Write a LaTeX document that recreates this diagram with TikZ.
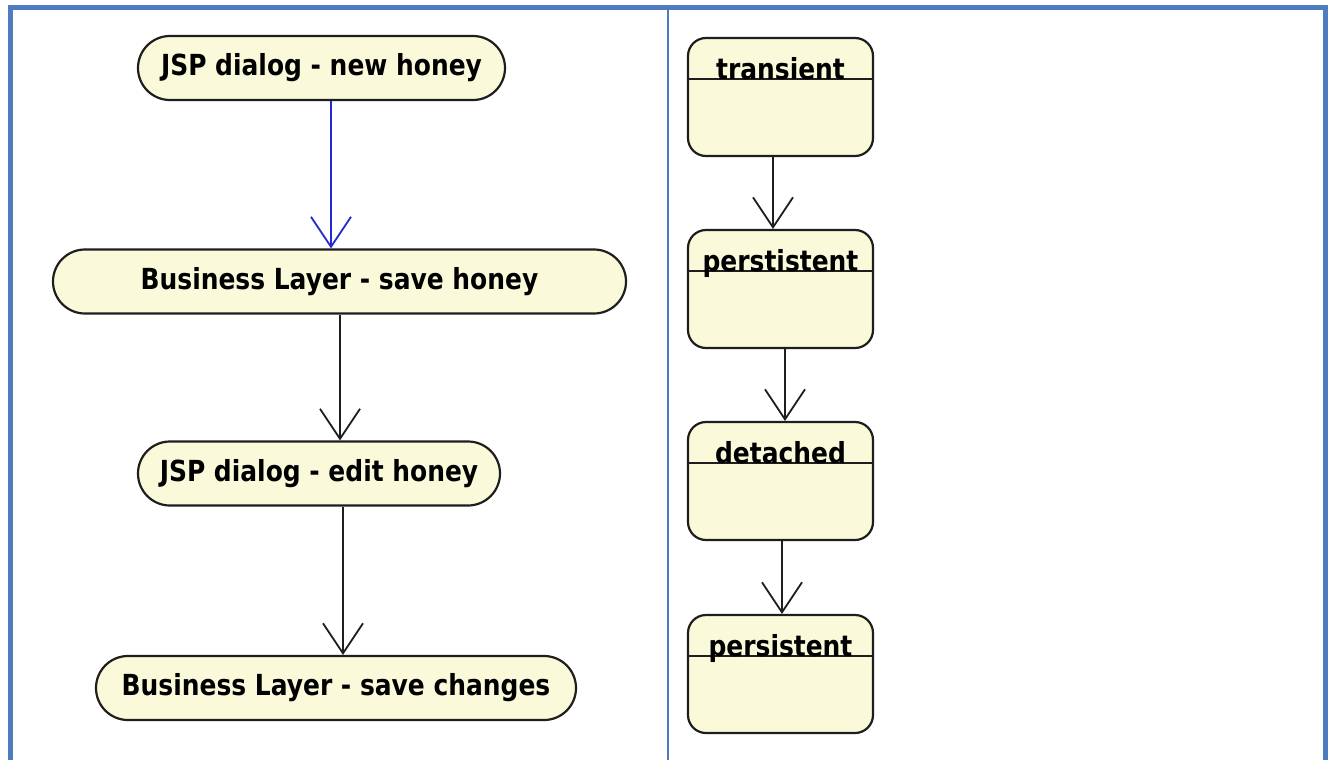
\documentclass[tikz,border=0pt]{standalone}
\usepackage{fontspec}
\newfontfamily\lblfont{DejaVu Sans}[FakeStretch=0.86]
\usetikzlibrary{arrows.meta,calc}

\definecolor{framblue}{RGB}{79,123,192}
\definecolor{nodefill}{RGB}{250,250,218}
\definecolor{edgeink}{RGB}{30,30,30}
\definecolor{flowblue}{RGB}{40,40,210}

\tikzset{
  activity/.style={draw=edgeink, line width=2.2pt, fill=nodefill,
    rounded corners=32pt, minimum height=64pt, inner sep=0pt,
    font=\lblfont\bfseries\fontsize{29}{32}\selectfont},
  statebox/.style={draw=edgeink, line width=2.2pt, fill=nodefill,
    rounded corners=18pt, minimum width=185pt, minimum height=118pt, inner sep=0pt},
  statename/.style={anchor=base, inner sep=0pt,
    font=\lblfont\bfseries\fontsize{29}{32}\selectfont},
  flow/.style={draw=edgeink, line width=1.8pt,
    -{Straight Barb[length=30pt,width=40pt,line width=1.8pt]}},
  frameline/.style={draw=framblue, line width=5pt},
}

\begin{document}
\begin{tikzpicture}[x=1pt,y=-1pt]
\useasboundingbox (0,0) rectangle (1330,760);
\fill[white] (0,0) rectangle (1330,760);

% table frame
\draw[frameline] (10,760) -- (10,8) -- (1325.5,8) -- (1325.5,760);
\draw[draw=framblue, line width=2.5pt] (668,8) -- (668,760);

% activity flow
\node[activity, minimum width=367pt] (n1) at (321.5,68) {JSP dialog - new honey};
\node[activity, minimum width=573pt] (n2) at (339.5,281.5) {Business Layer - save honey};
\node[activity, minimum width=362pt] (n3) at (319,473.5) {JSP dialog - edit honey};
\node[activity, minimum width=480pt] (n4) at (336,688) {Business Layer - save changes};

\draw[flow, draw=flowblue, -{Straight Barb[length=30pt,width=40pt,line width=1.8pt,color=flowblue]}]
  ([xshift=9.5pt]n1.south) -- ([xshift=-8.5pt]n2.north);
\draw[flow] ([xshift=0.5pt]n2.south) -- ([xshift=21pt]n3.north);
\draw[flow] ([xshift=24pt]n3.south) -- ([xshift=7pt]n4.north);

% object states
\foreach \nm/\cy/\txt in {s1/97/transient, s2/289/perstistent, s3/481/detached, s4/674/persistent}{
  \node[statebox] (\nm) at (780.5,\cy) {};
  \draw[draw=edgeink, line width=2pt]
    ($(\nm.north west)+(0,42)$) -- ($(\nm.north east)+(0,42)$);
  \node[statename] (\nm-name) at ($(\nm.north)+(0,43)$) {\txt};
}

\draw[flow] ([xshift=-7.5pt]s1.south) -- ([xshift=-7.5pt]s2.north);
\draw[flow] ([xshift=4.5pt]s2.south) -- ([xshift=4.5pt]s3.north);
\draw[flow] ([xshift=1.5pt]s3.south) -- ([xshift=1.5pt]s4.north);
\end{tikzpicture}
\end{document}
